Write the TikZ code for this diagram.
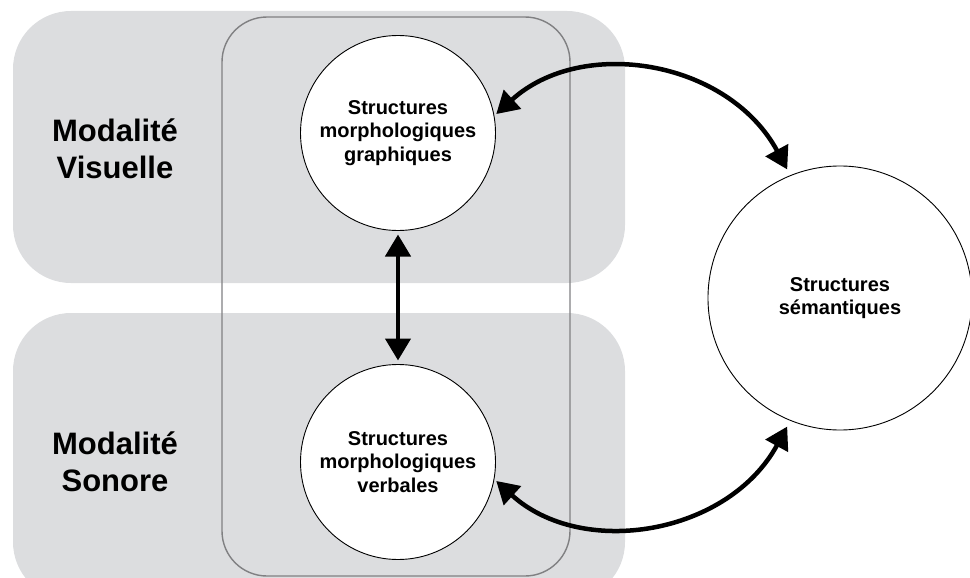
\documentclass[tikz,border=0pt]{standalone}
\usepackage{fontspec}
\setmainfont{Liberation Sans}
\usetikzlibrary{arrows.meta}
\definecolor{zonegray}{RGB}{220,221,223}
\definecolor{framegray}{RGB}{128,128,130}
\tikzset{
  zone/.style={fill=zonegray, draw=none, rounded corners=58pt},
  frame/.style={draw=framegray, line width=1.4pt, rounded corners=45pt},
  circ/.style={circle, draw=black, line width=0.9pt, fill=white, inner sep=0pt, outer sep=0pt, align=center,
    font=\bfseries\fontsize{20}{23.5}\selectfont},
  modlabel/.style={align=center, font=\bfseries\fontsize{31}{37}\selectfont, inner sep=0pt},
  dblarrow/.style={line width=4.5pt, black,
    {Triangle[length=22pt,width=25pt]}-{Triangle[length=22pt,width=25pt]}}
}
\begin{document}
\begin{tikzpicture}[x=1pt,y=-1pt]
\useasboundingbox (0,0) rectangle (970,578);
% zones
\fill[zone] (13,11) rectangle (625,283);
\fill[zone] (13,313) rectangle (625,600);
\fill[white] (0,578) rectangle (970,610);
% frame
\draw[frame] (222,17) rectangle (570,576);
% circles
\node[circ, minimum size=195pt] (g) at (398,133) {Structures\\morphologiques\\graphiques};
\node[circ, minimum size=195pt] (b) at (398,462) {Structures\\morphologiques\\verbales};
\node[circ, minimum size=264pt] (s) at (840,298) {Structures\\sémantiques};
% labels
\node[modlabel] (mv) at (115,149) {Modalité\\Visuelle};
\node[modlabel] (ms) at (115,462) {Modalité\\Sonore};
% arrows
\draw[dblarrow, shorten <=4pt, shorten >=4pt] (g.south) -- (b.north);
\draw[dblarrow, shorten <=3pt, shorten >=7pt] (g.10) .. controls (582,36) and (728,60) .. (s.112);
\draw[dblarrow, shorten <=3pt, shorten >=7pt] (b.-10) .. controls (582,559) and (728,535) .. (s.-112);
\end{tikzpicture}
\end{document}
